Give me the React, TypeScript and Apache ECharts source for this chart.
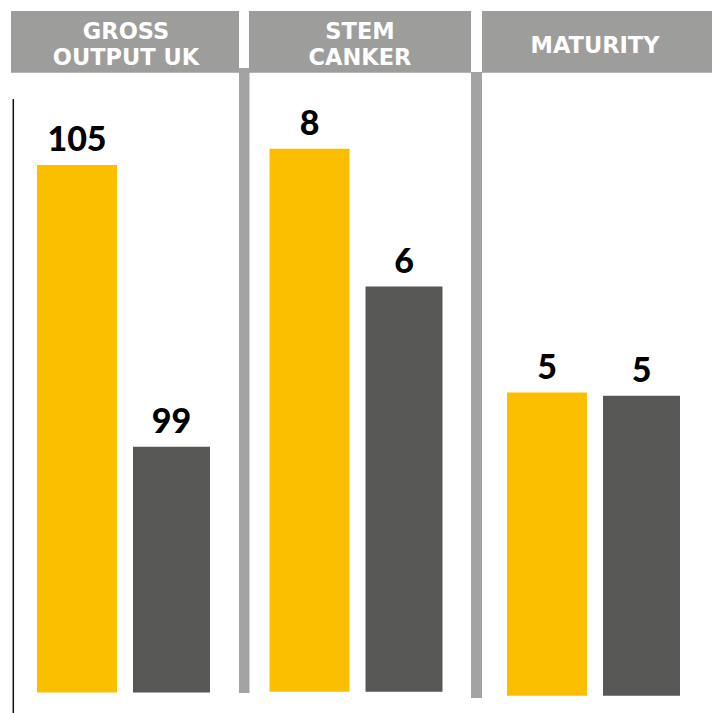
import React, { useEffect, useRef } from "react";
import * as echarts from "echarts";

const panelTitles = ["GROSS\nOUTPUT UK", "STEM\nCANKER", "MATURITY"];
const yellowValues = [105, 8, 5.0];
const darkValues = [99, 6, 4.95];
const yMins = [93.765, 0.116, 0];
const yMaxs = [106, 9, 6];

const YELLOW = "#FBBF00";
const DARK = "#575756";
const HEADER = "#9d9d9c";
const SEP = "#a3a3a3";

const grids = [
  { left: 14, width: 219, top: 118, bottom: 20.5 },
  { left: 250, width: 212, top: 80, bottom: 21.2 },
  { left: 483, width: 221, top: 332, bottom: 17.3 },
];

const headers = [
  { x: 11, w: 228, cx: 126, cy: 43.5 },
  { x: 249, w: 222, cx: 360, cy: 43.5 },
  { x: 482, w: 230, cx: 595, cy: 44.5 },
];

export default function App() {
  const ref = useRef<HTMLDivElement>(null);
  useEffect(() => {
    if (!ref.current) return;
    const chart = echarts.init(ref.current, null, { renderer: "svg" });
    const label = {
      show: true,
      position: "top",
      distance: 10,
      fontFamily: "Lato",
      fontWeight: 900,
      fontSize: 34,
      lineHeight: 34,
      color: "#000",
      formatter: (p: any) => String(Math.round(p.value)),
    };
    const series: any[] = [];
    panelTitles.forEach((_, i) => {
      series.push({
        type: "bar",
        xAxisIndex: i,
        yAxisIndex: i,
        data: [yellowValues[i]],
        barWidth: 80,
        barGap: "20%",
        itemStyle: { color: YELLOW },
        label,
      });
      series.push({
        type: "bar",
        xAxisIndex: i,
        yAxisIndex: i,
        data: [darkValues[i]],
        barWidth: 77,
        barGap: "20%",
        itemStyle: { color: DARK },
        label,
      });
    });
    const graphic: any[] = [];
    headers.forEach((h, i) => {
      graphic.push({
        type: "rect",
        shape: { x: h.x, y: 11, width: h.w, height: 61.7 },
        style: { fill: HEADER },
        silent: true,
      });
      graphic.push({
        type: "text",
        x: h.cx,
        y: h.cy,
        style: {
          text: panelTitles[i],
          fill: "#fff",
          fontFamily: "DejaVu Sans",
          fontWeight: "bold",
          fontSize: 22.5,
          lineHeight: 26,
          textAlign: "center",
          textVerticalAlign: "middle",
        },
        silent: true,
      });
    });
    graphic.push({
      type: "rect",
      shape: { x: 239, y: 68, width: 10.5, height: 625 },
      style: { fill: SEP },
      silent: true,
    });
    graphic.push({
      type: "rect",
      shape: { x: 471, y: 72, width: 11, height: 626 },
      style: { fill: SEP },
      silent: true,
    });
    graphic.push({
      type: "line",
      shape: { x1: 13.3, y1: 99, x2: 13.3, y2: 713 },
      style: { stroke: "#111", lineWidth: 1.5 },
      silent: true,
    });
    chart.setOption({
      animation: false,
      backgroundColor: "#fff",
      grid: grids,
      xAxis: grids.map((_, i) => ({
        type: "category",
        gridIndex: i,
        data: [""],
        show: false,
      })),
      yAxis: grids.map((_, i) => ({
        type: "value",
        gridIndex: i,
        min: yMins[i],
        max: yMaxs[i],
        show: false,
      })),
      series,
      graphic,
    });
    return () => chart.dispose();
  }, []);
  return (
    <div
      ref={ref}
      style={{ position: "fixed", left: 0, top: 0, width: 712, height: 713 }}
    />
  );
}
